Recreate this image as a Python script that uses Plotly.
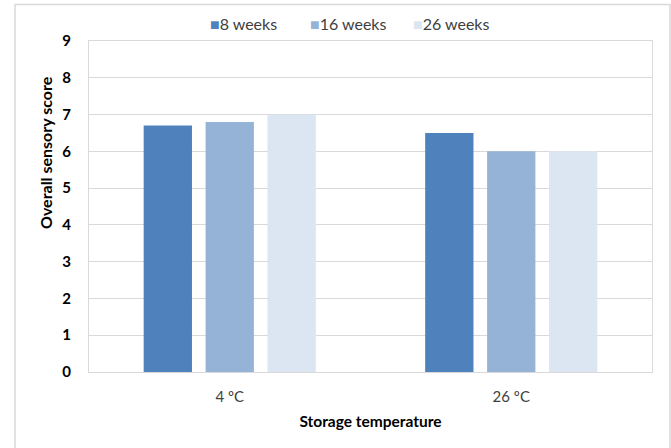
import plotly.graph_objects as go

# Sensory evaluation by storage temperature and storage time
temperatures = ["4 ºC", "26 ºC"]
series_names = ["8 weeks", "16 weeks", "26 weeks"]
scores_8wk = [6.7, 6.5]
scores_16wk = [6.8, 6.0]
scores_26wk = [7.0, 6.0]
y_ticks = [0, 1, 2, 3, 4, 5, 6, 7, 8, 9]

colors = ["#4F81BD", "#95B3D7", "#DCE6F2"]
font_family = "Lato, 'Open Sans', sans-serif"
grid_color = "#D9D9D9"

fig = go.Figure()
for name, vals, col in zip(series_names, [scores_8wk, scores_16wk, scores_26wk], colors):
    fig.add_trace(go.Bar(x=temperatures, y=vals, name=name, showlegend=False,
                         marker=dict(color=col, line=dict(width=0))))

W, H = 671, 448
ml, mr, mt, mb = 89, 19, 41, 76
pw, ph = W - ml - mr, H - mt - mb

def px_x(x):
    return (x - ml) / pw

def px_y(y):
    return (H - mb - y) / ph

# Compact legend row: square swatch followed directly by the series name
legend_x = [208, 308, 411]
annotations = []
for name, col, lx in zip(series_names, colors, legend_x):
    annotations.append(dict(
        xref="paper", yref="paper", x=px_x(lx), y=px_y(23),
        xanchor="left", yanchor="middle", showarrow=False,
        text=f"<span style='color:{col}'>■</span>{name}",
        font=dict(size=16, color="#404040", family=font_family)))

# Vertical axis title, placed as in the original layout
annotations.append(dict(
    xref="paper", yref="paper", x=px_x(45), y=px_y(152),
    xanchor="center", yanchor="middle", showarrow=False, textangle=-90,
    text="<b>Overall sensory score</b>",
    font=dict(size=16, color="#000000", family=font_family)))

fig.update_layout(
    width=W, height=H,
    margin=dict(l=ml, r=mr, t=mt, b=mb, autoexpand=False),
    paper_bgcolor="white", plot_bgcolor="white",
    barmode="group", bargap=0.34, bargroupgap=0.22,
    font=dict(family=font_family, color="#404040", size=14),
    showlegend=False,
    annotations=annotations,
    xaxis=dict(showgrid=False, showline=True, linecolor=grid_color, linewidth=1,
               mirror=True, ticks="", tickfont=dict(size=15, color="#404040"),
               ticklabelstandoff=11, automargin=False,
               title=dict(text="<b>Storage temperature</b>", font=dict(size=15.5, color="#000000"),
                          standoff=12)),
    yaxis=dict(range=[0, 9], tickvals=y_ticks, showgrid=True, gridcolor=grid_color,
               gridwidth=1, showline=True, linecolor=grid_color, linewidth=1, mirror=True,
               zeroline=False, ticks="", automargin=False,
               tickfont=dict(size=15, color="#000000", weight="bold"),
               ticklabelstandoff=14),
    shapes=[dict(type="rect", xref="paper", yref="paper",
                 x0=px_x(15), x1=px_x(670), y0=px_y(452), y1=px_y(4.5),
                 line=dict(color=grid_color, width=1.5), fillcolor="rgba(0,0,0,0)",
                 layer="below")],
)

fig.write_html("out.html")
